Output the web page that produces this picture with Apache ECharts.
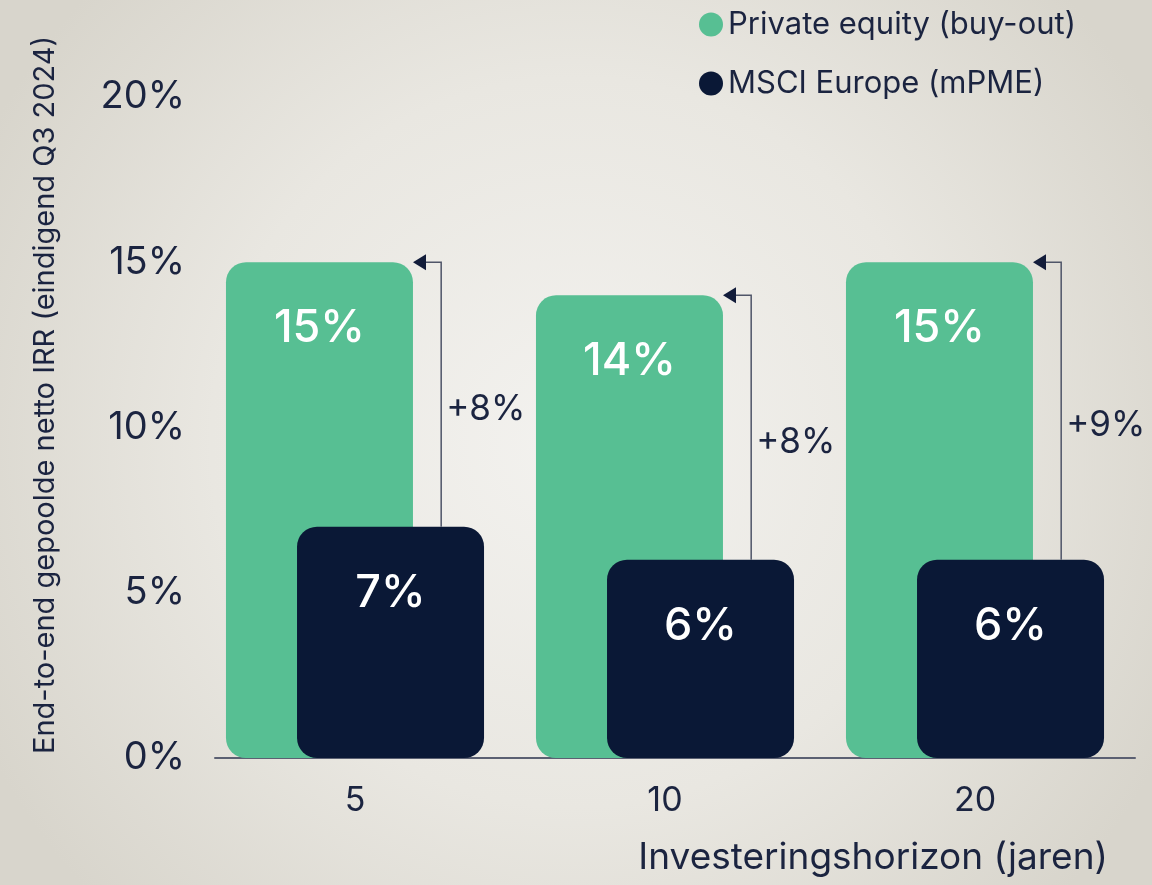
<!DOCTYPE html>
<html>
<head>
<meta charset="utf-8">
<script src="https://cdn.jsdelivr.net/npm/echarts@6/dist/echarts.min.js"></script>
<style>
html,body{margin:0;padding:0;}
#c{width:1152px;height:885px;}
</style>
</head>
<body>
<div id="c"></div>
<script>
var categories = ['5', '10', '20'];
var privateEquity = [15, 14, 15];
var msciEurope = [7, 6, 6];
var yTicks = [0, 5, 10, 15, 20];
var seriesNames = ['Private equity (buy-out)', 'MSCI Europe (mPME)'];
var yTitle = 'End-to-end gepoolde netto IRR (eindigend Q3 2024)';
var xTitle = 'Investeringshorizon (jaren)';

var GREEN = '#57bf93', NAVY = '#0a1836', TEXT = '#1b2440';
var FONT = 'Inter, "Noto Sans", sans-serif';
var BAR_W = 187;

var chart = echarts.init(document.getElementById('c'), null, {renderer: 'canvas'});

var arrowData = categories.map(function (c, i) {
  return [i, privateEquity[i], msciEurope[i]];
});

chart.setOption({
  backgroundColor: {
    type: 'radial', x: 0.5, y: 0.5, r: 0.75,
    colorStops: [
      {offset: 0, color: '#f3f2ef'},
      {offset: 0.55, color: '#e9e7e1'},
      {offset: 1, color: '#d8d5cc'}
    ]
  },
  textStyle: {fontFamily: FONT},
  legend: {
    orient: 'vertical', left: 694, top: 4, itemWidth: 24, itemHeight: 24, itemGap: 28,
    icon: 'circle',
    textStyle: {fontSize: 31, color: TEXT, fontFamily: FONT},
    data: seriesNames
  },
  grid: [
    {left: 200, width: 930, top: 97, bottom: 127},
    {left: 215, right: 17, top: 97, bottom: 127}
  ],
  xAxis: [
    {
      type: 'category', data: categories, gridIndex: 0,
      axisLine: {show: false}, axisTick: {show: false},
      axisLabel: {fontSize: 34, color: TEXT, margin: 26, fontFamily: FONT}
    },
    {
      type: 'value', gridIndex: 1, min: 0, max: 1,
      axisLine: {show: true, lineStyle: {color: '#5b6072', width: 2}},
      axisTick: {show: false}, axisLabel: {show: false}, splitLine: {show: false}
    }
  ],
  yAxis: [
    {
      type: 'value', gridIndex: 0, min: yTicks[0], max: yTicks[yTicks.length - 1], interval: 5,
      axisLine: {show: false}, axisTick: {show: false}, splitLine: {show: false},
      axisLabel: {fontSize: 38, color: TEXT, margin: 15, formatter: '{value}%', fontFamily: FONT}
    },
    {type: 'value', gridIndex: 1, show: false, min: 0, max: 1}
  ],
  graphic: [
    {
      type: 'text', x: 45, y: 395, rotation: Math.PI / 2,
      style: {text: yTitle, fontSize: 29, fill: TEXT, fontFamily: FONT, textAlign: 'center', textVerticalAlign: 'middle'}
    },
    {
      type: 'text', x: 1108, y: 858,
      style: {text: xTitle, fontSize: 37, fill: TEXT, fontFamily: FONT, textAlign: 'right', textVerticalAlign: 'middle'}
    }
  ],
  series: [
    {
      name: seriesNames[0], type: 'bar', data: privateEquity, barWidth: BAR_W, barGap: '-62%',
      itemStyle: {color: GREEN, borderRadius: 20},
      label: {show: true, position: 'insideTop', distance: 44, formatter: '{c}%', color: '#fff', fontSize: 45, fontWeight: 500, fontFamily: FONT},
      z: 2
    },
    {
      name: seriesNames[1], type: 'bar', data: msciEurope, barWidth: BAR_W,
      itemStyle: {color: NAVY, borderRadius: 20},
      label: {show: true, position: 'insideTop', distance: 44, formatter: '{c}%', color: '#fff', fontSize: 45, fontWeight: 500, fontFamily: FONT},
      z: 3
    },
    {
      type: 'custom', data: arrowData, z: 10,
      renderItem: function (params, api) {
        var idx = api.value(0);
        var top = api.coord([idx, api.value(1)]);
        var bot = api.coord([idx, api.value(2)]);
        var band = api.size([1, 0])[0];
        var lineX = top[0] + band * 0.278;
        var tipX = top[0] + band * 0.187;
        var y1 = top[1], y2 = bot[1];
        var diff = Math.round(api.value(1) - api.value(2));
        return {
          type: 'group',
          children: [
            {type: 'polyline', shape: {points: [[lineX, y2], [lineX, y1], [tipX + 12, y1]]},
              style: {stroke: '#4f5568', lineWidth: 1.5, fill: null}},
            {type: 'polygon', shape: {points: [[tipX, y1], [tipX + 13, y1 - 8], [tipX + 13, y1 + 8]]},
              style: {fill: '#121c3a'}},
            {type: 'text', x: lineX + 5, y: (y1 + y2) / 2 + 15,
              style: {text: '+' + diff + '%', fontSize: 35, fill: TEXT, fontFamily: FONT, textAlign: 'left', textVerticalAlign: 'middle'}}
          ]
        };
      }
    }
  ]
});
</script>
</body>
</html>
